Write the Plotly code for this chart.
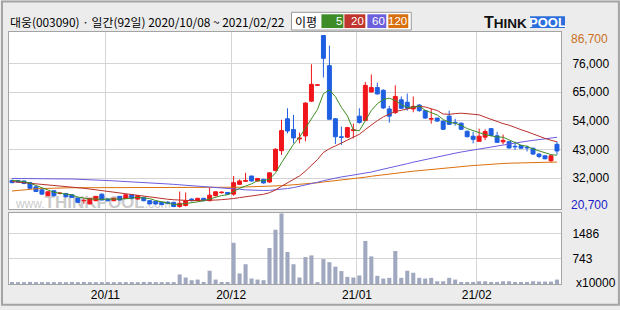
import plotly.graph_objects as go

# ---------------- data ----------------
dates = [
    "2020-10-08", "2020-10-12", "2020-10-13", "2020-10-14", "2020-10-15", "2020-10-16",
    "2020-10-19", "2020-10-20", "2020-10-21", "2020-10-22", "2020-10-23", "2020-10-26",
    "2020-10-27", "2020-10-28", "2020-10-29", "2020-10-30",
    "2020-11-02", "2020-11-03", "2020-11-04", "2020-11-05", "2020-11-06", "2020-11-09",
    "2020-11-10", "2020-11-11", "2020-11-12", "2020-11-13", "2020-11-16", "2020-11-17",
    "2020-11-18", "2020-11-19", "2020-11-20", "2020-11-23", "2020-11-24", "2020-11-25",
    "2020-11-26", "2020-11-27", "2020-11-30",
    "2020-12-01", "2020-12-02", "2020-12-03", "2020-12-04", "2020-12-07", "2020-12-08",
    "2020-12-09", "2020-12-10", "2020-12-11", "2020-12-14", "2020-12-15", "2020-12-16",
    "2020-12-17", "2020-12-18", "2020-12-21", "2020-12-22", "2020-12-23", "2020-12-24",
    "2020-12-28", "2020-12-29", "2020-12-30",
    "2021-01-04", "2021-01-05", "2021-01-06", "2021-01-07", "2021-01-08", "2021-01-11",
    "2021-01-12", "2021-01-13", "2021-01-14", "2021-01-15", "2021-01-18", "2021-01-19",
    "2021-01-20", "2021-01-21", "2021-01-22", "2021-01-25", "2021-01-26", "2021-01-27",
    "2021-01-28", "2021-01-29",
    "2021-02-01", "2021-02-02", "2021-02-03", "2021-02-04", "2021-02-05", "2021-02-08",
    "2021-02-09", "2021-02-10", "2021-02-15", "2021-02-16", "2021-02-17", "2021-02-18",
    "2021-02-19", "2021-02-22",
]

opens = [31150, 31150, 30950, 30300, 28700, 27550, 25300, 27200, 26150, 26150,
         25650, 24400, 23350, 22150, 23400, 25900, 24000, 23400, 25050, 24300,
         25650, 24000, 24650, 23400, 23150, 22750, 22750, 22750, 21150, 21550,
         24000, 23400, 24300, 23400, 25300, 26450, 26550, 25900, 29650, 30800,
         32850, 30950, 31550, 30550, 34950, 42550, 54800, 50650, 47050, 48200,
         61550, 67600, 86700, 75150, 54800, 47900, 47750, 50250, 55800, 54150,
         65050, 66750, 65700, 58550, 57150, 62050, 61100, 58550, 60050, 57900,
         54650, 55050, 53900, 55800, 53400, 53100, 50000, 48100, 46150, 47750,
         51000, 48250, 45950, 46000, 44250, 44500, 43850, 43500, 41250, 40600,
         38700, 45000]
highs = [31450, 31300, 31050, 30500, 28800, 27650, 26900, 27300, 26700, 26350,
         25800, 24550, 24450, 24450, 25200, 26150, 24300, 24450, 25200, 25800,
         25800, 25400, 24850, 23500, 23350, 22950, 23150, 22950, 26900, 26550,
         24300, 24450, 24450, 28400, 26900, 26900, 26700, 32850, 31550, 34050,
         32950, 32050, 31800, 34250, 43500, 54400, 58800, 56300, 49500, 61100,
         75700, 68000, 86700, 82800, 55050, 51800, 51650, 52900, 58800, 68900,
         71750, 68600, 66100, 59700, 67600, 63350, 64450, 63350, 60450, 58200,
         58550, 55150, 54050, 57900, 54800, 53300, 50250, 49800, 51000, 50750,
         51150, 49800, 48750, 46150, 46000, 44600, 44500, 43700, 41600, 40750,
         40750, 46000]
lows = [30100, 30300, 29750, 28050, 26750, 25800, 25200, 25050, 25800, 24650,
        24450, 22600, 22200, 22000, 23150, 23500, 23150, 23150, 23500, 24100,
        23900, 23900, 23150, 22000, 21850, 21650, 22000, 20900, 20700, 21150,
        23150, 23150, 23150, 23150, 25050, 26150, 25800, 25300, 29450, 30550,
        30700, 30700, 29950, 30300, 34700, 40950, 49150, 45350, 45350, 46150,
        61300, 67550, 70600, 54550, 45100, 44750, 47450, 47250, 52900, 53850,
        64850, 64100, 58550, 53300, 56650, 58550, 57900, 57300, 57450, 54800,
        52900, 53650, 50550, 52400, 52150, 50550, 47650, 45350, 46000, 46600,
        48100, 45500, 45000, 43350, 42850, 43300, 42250, 41050, 39700, 39250,
        38200, 41000]
closes = [30300, 30550, 29950, 28150, 26900, 25900, 26800, 25300, 26350, 24900,
          24650, 22750, 23500, 24300, 25050, 23650, 23400, 24300, 23650, 25650,
          24300, 25300, 23400, 22150, 22150, 21900, 22400, 21150, 22400, 23400,
          23400, 24300, 23400, 25500, 26800, 26700, 25900, 30300, 30950, 31150,
          30950, 31900, 30200, 34050, 43100, 50250, 50100, 47450, 47450, 60800,
          68000, 67850, 77950, 54600, 47900, 47650, 51400, 50650, 53400, 67600,
          66750, 64300, 58950, 55800, 63350, 58800, 58800, 59550, 57900, 55050,
          54900, 53900, 50750, 52650, 53150, 50750, 47900, 46900, 48100, 49900,
          48400, 45750, 46500, 43600, 44000, 43500, 43600, 41250, 40350, 39450,
          40600, 42450]
volumes = [60, 40, 55, 60, 55, 35, 55, 40, 40, 40,
           60, 45, 60, 40, 40, 35, 35, 35, 35, 40,
           40, 40, 60, 60, 40, 40, 40, 40, 280, 190,
           111, 130, 60, 390, 130, 60, 60, 1210, 310, 580,
           160, 130, 111, 1060, 1590, 2080, 940, 580, 190, 790,
           840, 39, 730, 640, 510, 380, 210, 190, 250, 1260,
           810, 240, 160, 180, 970, 180, 390, 330, 180, 160,
           180, 80, 80, 180, 130, 60, 60, 60, 80, 80,
           60, 60, 80, 80, 60, 60, 60, 80, 70, 70,
           70, 130]

ma5_head = [31200, 31000, 30700, 30100]
ma20_head = [30700, 30500, 30300, 30100, 29950, 29750, 29550, 29350, 29200, 28900,
             28700, 28400, 28150, 27850, 27550, 27200, 26850, 26450, 26100]
ma60_head = [31900, 31900, 31900, 31900, 31900, 31850, 31800, 31800, 31750, 31750,
             31700, 31600, 31550, 31450, 31300, 31200, 31100, 31000, 30850, 30750,
             30650, 30550, 30400, 30250, 30100, 29950, 29800, 29650, 29500, 29300,
             29150, 29000, 28850, 28700, 28500, 28300, 28100, 27950, 27750, 27550,
             27400, 27300, 27300, 27350, 27500, 27750, 28050, 28400, 28850, 29300,
             29900, 30450, 31050, 31600, 32100, 32500, 32850, 33200, 33500]
ma120 = [27100, 27350, 27600, 27800, 27950, 28050, 28150, 28250, 28250, 28300,
         28350, 28350, 28350, 28350, 28350, 28350, 28350, 28350, 28350, 28350,
         28350, 28400, 28400, 28400, 28400, 28400, 28400, 28400, 28400, 28400,
         28400, 28400, 28400, 28400, 28400, 28400, 28400, 28500, 28550, 28650,
         28700, 28800, 28850, 28950, 29000, 29150, 29300, 29450, 29600, 29800,
         30000, 30250, 30550, 30800, 31000, 31250, 31450, 31750, 32050, 32400,
         32750, 33050, 33350, 33700, 33950, 34200, 34450, 34700, 34900, 35150,
         35400, 35600, 35750, 35950, 36200, 36400, 36650, 36850, 37050, 37250,
         37400, 37550, 37650, 37750, 37850, 37900, 38000, 38050, 38050, 38100,
         38150, 38200]

price_ticks = [32000, 43000, 54000, 65000, 76000]
price_max = 86700
price_min = 20700
vol_ticks = [743, 1486]
vol_unit_label = "x10000"
title_text = "대웅(003090) · 일간(92일) 2020/10/08 ~ 2021/02/22"
ma_periods = ["5", "20", "60", "120"]


def sma(vals, n, head):
    out = list(head)
    for i in range(len(head), len(vals)):
        out.append(sum(vals[i - n + 1:i + 1]) / n)
    return out


ma5 = sma(closes, 5, ma5_head)
ma20 = sma(closes, 20, ma20_head)
ma60 = sma(closes, 60, ma60_head)

# ---------------- style ----------------
W, H = 620, 310
L, R, T, B = 8, 59, 32, 22
PW, PH = W - L - R, H - T - B
UP = "#f0161c"
DOWN = "#1f5fe2"
C5, C20, C60, C120 = "#3e8e24", "#b8302a", "#6a5ce0", "#dc700c"
LEG_COLORS = ["#3d8c27", "#c0352c", "#6c60dc", "#d8700e"]
GRID = "#d4d4d4"
FRAME = "#a4a4a4"
BG = "#ececec"
VOLC = "#a0a8c0"
LABEL_FONT = dict(family="Liberation Sans, Arial, sans-serif", size=12, color="#000000")


def fx(px):
    return (px - L) / PW


def fy(py):
    return (H - B - py) / PH


n = len(closes)
idx = list(range(n))
month_idx = [i for i in range(1, n) if dates[i][5:7] != dates[i - 1][5:7]]
month_labels = [dates[i][2:4] + "/" + dates[i][5:7] for i in month_idx]
grid_x = [i - 0.4 for i in month_idx]

fig = go.Figure()

# volume
fig.add_trace(go.Bar(x=idx, y=volumes, width=0.68, marker=dict(color=VOLC, line=dict(width=0)),
                     xaxis="x2", yaxis="y2", hoverinfo="skip"))

# candles
for is_up, col in [(True, UP), (False, DOWN)]:
    sel = [i for i in idx if (closes[i] >= opens[i]) == is_up]
    wx, wy = [], []
    for i in sel:
        wx += [i, i, None]
        wy += [lows[i], highs[i], None]
    fig.add_trace(go.Scatter(x=wx, y=wy, mode="lines", line=dict(color=col, width=1),
                             xaxis="x", yaxis="y", hoverinfo="skip", connectgaps=False))
    fig.add_trace(go.Bar(x=sel, base=[min(opens[i], closes[i]) for i in sel],
                         y=[abs(closes[i] - opens[i]) for i in sel], width=0.66,
                         marker=dict(color=col, line=dict(color=col, width=1)),
                         xaxis="x", yaxis="y", hoverinfo="skip"))

# moving averages
for series, col in [(ma120, C120), (ma60, C60), (ma20, C20), (ma5, C5)]:
    fig.add_trace(go.Scatter(x=idx, y=series, mode="lines", line=dict(color=col, width=1),
                             xaxis="x", yaxis="y", hoverinfo="skip"))

shapes = []
annotations = []

# outer frame
shapes.append(dict(type="rect", xref="paper", yref="paper", x0=fx(1), x1=fx(619), y0=fy(309), y1=fy(1),
                   line=dict(color=FRAME, width=2), fillcolor="rgba(0,0,0,0)", layer="above"))

# watermark
shapes.append(dict(type="rect", xref="paper", yref="paper", x0=fx(20), x1=fx(165), y0=fy(213), y1=fy(193),
                   line=dict(width=0), fillcolor="rgba(0,0,0,0)", layer="below",
                   label=dict(text="<span style='font-size:12px'>www.</span><b>THINKPOOL</b><span style='font-size:12px'>.com</span>",
                              font=dict(family="Liberation Sans, Arial", size=17, color="#cbcbcb"),
                              textposition="middle center")))

# title
annotations.append(dict(xref="paper", yref="paper", x=fx(7), y=fy(21.5), xanchor="left", yanchor="middle",
                        text=title_text, showarrow=False,
                        font=dict(family="Noto Sans CJK KR", size=11.9, color="#000000")))

# MA legend box
shapes.append(dict(type="rect", xref="paper", yref="paper", x0=fx(291), x1=fx(411), y0=fy(30), y1=fy(12),
                   line=dict(color="#9a9a9a", width=1), fillcolor="#ffffff", layer="above"))
annotations.append(dict(xref="paper", yref="paper", x=fx(305.5), y=fy(21), xanchor="center", yanchor="middle",
                        text="이평", showarrow=False,
                        font=dict(family="Noto Sans CJK KR", size=12, color="#000000")))
box_edges = [(321, 343), (344, 365), (367, 386), (388, 408)]
for (x0, x1), lab, col in zip(box_edges, ma_periods, LEG_COLORS):
    shapes.append(dict(type="rect", xref="paper", yref="paper", x0=fx(x0), x1=fx(x1), y0=fy(28), y1=fy(14),
                       line=dict(width=0), fillcolor=col, layer="above"))
    annotations.append(dict(xref="paper", yref="paper", x=fx(x1), y=fy(21), xanchor="right",
                            yanchor="middle", text=lab, showarrow=False, borderpad=0,
                            font=dict(family="Liberation Sans, Arial", size=11.5, color="#ffffff")))

# logo
annotations.append(dict(xref="paper", yref="paper", x=fx(482), y=fy(22), xanchor="left", yanchor="middle",
                        text="<b><span style='font-size:16px'>T</span>HINK</b>", showarrow=False,
                        font=dict(family="Liberation Sans, Arial", size=13.5, color="#111111")))
shapes.append(dict(type="rect", xref="paper", yref="paper", x0=fx(530), x1=fx(565), y0=fy(28), y1=fy(16),
                   line=dict(width=0), fillcolor="#2c6fdc", layer="above"))
annotations.append(dict(xref="paper", yref="paper", x=fx(547.5), y=fy(22), xanchor="center", yanchor="middle",
                        text="<b>POOL</b>", showarrow=False,
                        font=dict(family="Liberation Sans, Arial", size=13, color="#ffffff")))

# extreme price labels
annotations.append(dict(xref="paper", yref="y", x=fx(569), y=price_max, yshift=-3, xanchor="left",
                        yanchor="middle", text=f"{price_max:,}", showarrow=False,
                        font=dict(family=LABEL_FONT["family"], size=12, color="#c8701e")))
annotations.append(dict(xref="paper", yref="y", x=fx(569), y=price_min, yshift=3, xanchor="left",
                        yanchor="middle", text=f"{price_min:,}", showarrow=False,
                        font=dict(family=LABEL_FONT["family"], size=12, color="#1a1ac8")))
annotations.append(dict(xref="paper", yref="paper", x=fx(574), y=fy(287), xanchor="left", yanchor="middle",
                        text=vol_unit_label, showarrow=False, font=LABEL_FONT))

axis_common = dict(showline=True, mirror=True, linecolor=FRAME, linewidth=1, zeroline=False,
                   gridcolor=GRID, gridwidth=1, fixedrange=True)

fig.update_layout(
    width=W, height=H,
    margin=dict(l=L, r=R, t=T, b=B),
    paper_bgcolor=BG, plot_bgcolor="#ffffff",
    showlegend=False, barmode="overlay",
    xaxis=dict(domain=[0, 1], anchor="y", range=[-0.5, 91.67], tickvals=grid_x, showticklabels=False,
               showgrid=True, ticks="", **axis_common),
    yaxis=dict(domain=[fy(212), 1], anchor="x", range=[20130, 88050], side="right",
               tickvals=price_ticks, ticktext=[f"{v:,}" for v in price_ticks], showgrid=True,
               ticks="", ticklabelstandoff=8, tickfont=LABEL_FONT, **axis_common),
    xaxis2=dict(domain=[0, 1], anchor="y2", matches="x", range=[-0.5, 91.67], tickvals=grid_x,
                ticktext=month_labels, showgrid=True, ticks="", tickfont=LABEL_FONT, **axis_common),
    yaxis2=dict(domain=[0, fy(216)], anchor="x2", range=[0, 2080], side="right",
                tickvals=vol_ticks, ticktext=[str(v) for v in vol_ticks], showgrid=True,
                ticks="", ticklabelstandoff=8, tickfont=LABEL_FONT, **axis_common),
    shapes=shapes, annotations=annotations,
)

fig.write_html("out.html")
